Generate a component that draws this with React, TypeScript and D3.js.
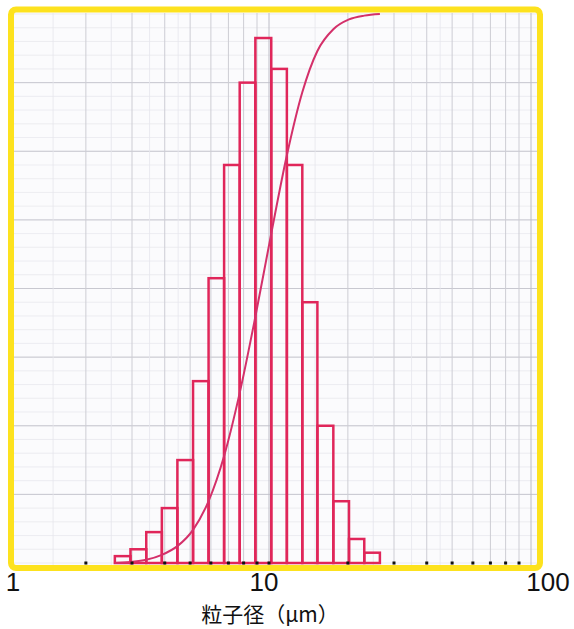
import React, { useEffect, useRef } from 'react';
import * as d3 from 'd3';

// bin edges (µm)
const binEdges = [2.58, 2.96, 3.4, 3.9, 4.47, 5.13, 5.88, 6.74, 7.73, 8.87, 10.2, 11.7, 13.4, 15.3, 17.6, 20.2, 23.1, 26.5];
// frequency (%) of each bin
const frequency = [0.2, 0.4, 0.9, 1.6, 3.0, 5.3, 8.3, 11.6, 14.0, 15.3, 14.4, 11.6, 7.6, 4.0, 1.8, 0.7, 0.3];
// labelled ticks on the log axis
const tickLabels = [1, 10, 100];
// minor tick dots along the baseline
const tickDots = [2, 3, 4, 5, 6, 7, 8, 9, 10, 20, 30, 40, 50, 60, 70, 80, 90];
const axisTitle = '粒子径（µm）';

const W = 574;
const H = 629;

const App: React.FC = () => {
    const svgRef = useRef<SVGSVGElement>(null);

    useEffect(() => {
        if (!svgRef.current) return;
        const svg = d3.select(svgRef.current);
        svg.selectAll('*').remove();

        const inner = { left: 14, right: 537, top: 13, bottom: 565 };
        const baseY = 563;

        const x = d3.scaleLog().domain([1, 100]).range([7, 531]);
        const yFreq = d3.scaleLinear().domain([0, 16]).range([baseY, 14]);
        const yCum = d3.scaleLinear().domain([0, 100]).range([baseY, 14]);

        svg.append('defs').append('clipPath').attr('id', 'plotClip')
            .append('rect')
            .attr('x', inner.left).attr('y', inner.top)
            .attr('width', inner.right - inner.left).attr('height', inner.bottom - inner.top);

        const plot = svg.append('g').attr('clip-path', 'url(#plotClip)');

        // graph paper background
        plot.append('rect')
            .attr('x', inner.left).attr('y', inner.top)
            .attr('width', inner.right - inner.left).attr('height', inner.bottom - inner.top)
            .attr('fill', '#fbfbfd');

        // fine horizontal lines
        plot.selectAll('.hminor')
            .data(d3.range(0, 16.01, 0.4))
            .enter().append('line')
            .attr('x1', inner.left).attr('x2', inner.right)
            .attr('y1', d => yFreq(d)).attr('y2', d => yFreq(d))
            .attr('stroke', '#e8e8ee').attr('stroke-width', 0.8);

        // major horizontal lines
        plot.selectAll('.hmajor')
            .data(d3.range(2, 16, 2))
            .enter().append('line')
            .attr('x1', inner.left).attr('x2', inner.right)
            .attr('y1', d => yFreq(d)).attr('y2', d => yFreq(d))
            .attr('stroke', '#c8c8d0').attr('stroke-width', 1);

        // minor vertical lines
        const minorV = [1.5, 2.5, 3.5, 4.5, 15, 25, 35, 45];
        plot.selectAll('.vminor')
            .data(minorV)
            .enter().append('line')
            .attr('x1', d => x(d)).attr('x2', d => x(d))
            .attr('y1', inner.top).attr('y2', inner.bottom)
            .attr('stroke', '#e6e6ec').attr('stroke-width', 0.8);

        // major vertical lines
        plot.selectAll('.vmajor')
            .data(tickDots.concat([100]))
            .enter().append('line')
            .attr('x1', d => x(d)).attr('x2', d => x(d))
            .attr('y1', inner.top).attr('y2', inner.bottom)
            .attr('stroke', d => (d === 10 || d === 100) ? '#bcbcc6' : '#cdcdd4')
            .attr('stroke-width', 1);

        // histogram bars
        const bars = frequency.map((v, i) => ({ x0: binEdges[i], x1: binEdges[i + 1], v }));
        plot.selectAll('.bar')
            .data(bars)
            .enter().append('rect')
            .attr('x', d => x(d.x0))
            .attr('width', d => x(d.x1) - x(d.x0))
            .attr('y', d => yFreq(d.v))
            .attr('height', d => baseY - yFreq(d.v))
            .attr('fill', 'none')
            .attr('stroke', '#e0265a')
            .attr('stroke-width', 2.5);

        // cumulative curve
        const total = d3.sum(frequency);
        const cum = Array.from(d3.cumsum(frequency));
        const pts: [number, number][] = [[binEdges[0], 0]].concat(
            cum.map((c, i) => [binEdges[i + 1], (c / total) * 100] as [number, number])
        ) as [number, number][];
        const line = d3.line<[number, number]>()
            .x(d => x(d[0]))
            .y(d => yCum(d[1]))
            .curve(d3.curveMonotoneX);
        plot.append('path')
            .attr('d', line(pts) || '')
            .attr('fill', 'none')
            .attr('stroke', '#d4306a')
            .attr('stroke-width', 2);

        // tick dots on the baseline
        svg.selectAll('.dot')
            .data(tickDots)
            .enter().append('rect')
            .attr('x', d => x(d) - 1.5)
            .attr('y', baseY - 1.5)
            .attr('width', 3).attr('height', 3)
            .attr('fill', '#111');

        // yellow frame
        svg.append('rect')
            .attr('x', 11).attr('y', 9.5)
            .attr('width', 529).attr('height', 558.5)
            .attr('rx', 5)
            .attr('fill', 'none')
            .attr('stroke', '#fde21e')
            .attr('stroke-width', 6);

        // tick labels
        const labelDx: Record<number, number> = { 1: 6, 10: -5, 100: 17 };
        svg.selectAll('.tlabel')
            .data(tickLabels)
            .enter().append('text')
            .attr('x', d => x(d) + (labelDx[d] || 0))
            .attr('y', 591)
            .attr('text-anchor', 'middle')
            .attr('font-family', '"Liberation Sans", Arial, sans-serif')
            .attr('font-size', 26)
            .attr('fill', '#111')
            .text(d => String(d));

        // axis title
        svg.append('text')
            .attr('x', 270)
            .attr('y', 622)
            .attr('text-anchor', 'middle')
            .attr('font-family', '"Noto Sans CJK JP", sans-serif')
            .attr('font-size', 21)
            .attr('fill', '#111')
            .text(axisTitle);
    }, []);

    return (
        <svg
            ref={svgRef}
            width={W}
            height={H}
            viewBox={`0 0 ${W} ${H}`}
            style={{ position: 'absolute', left: 0, top: 0, background: '#fff' }}
        />
    );
};

export default App;
